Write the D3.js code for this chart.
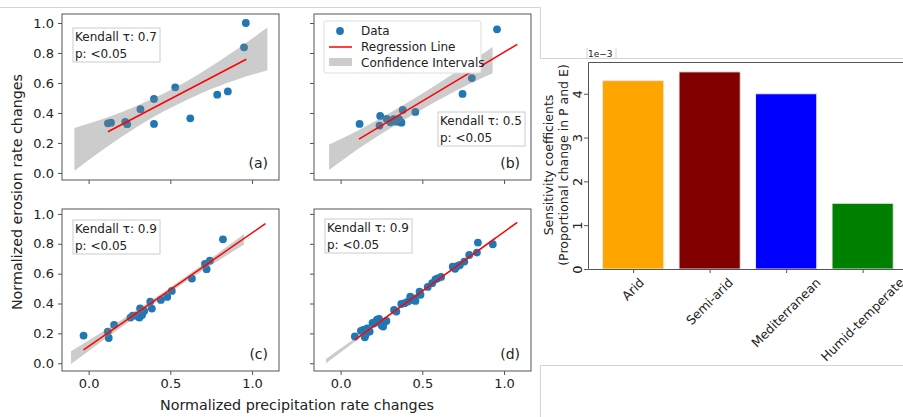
<!DOCTYPE html>
<html>
<head>
<meta charset="utf-8">
<script src="https://cdn.jsdelivr.net/npm/d3@7/dist/d3.min.js"></script>
<style>
body { margin: 0; background: #fff; }
text { font-family: "DejaVu Sans", sans-serif; fill: #222; }
</style>
</head>
<body>
<svg id="fig" width="903" height="417"></svg>
<script>
// ---- scatter data (normalized precipitation vs erosion changes) ----
var aX = [0.118, 0.137, 0.224, 0.236, 0.317, 0.40, 0.40, 0.53, 0.622, 0.787, 0.852, 0.951, 0.962];
var aY = [0.331, 0.335, 0.340, 0.325, 0.425, 0.327, 0.493, 0.571, 0.364, 0.522, 0.544, 0.838, 1.0];

var bX = [0.116, 0.238, 0.242, 0.282, 0.305, 0.325, 0.341, 0.356, 0.366, 0.372, 0.38, 0.457, 0.746, 0.803, 0.957];
var bY = [0.327, 0.316, 0.38, 0.36, 0.338, 0.358, 0.342, 0.36, 0.342, 0.335, 0.42, 0.407, 0.527, 0.633, 0.958];

var cX = [-0.031, 0.117, 0.123, 0.156, 0.256, 0.27, 0.29, 0.307, 0.311, 0.315, 0.327, 0.34, 0.377, 0.387, 0.442, 0.481, 0.509, 0.632, 0.712, 0.722, 0.742, 0.822];
var cY = [0.185, 0.212, 0.169, 0.257, 0.306, 0.319, 0.319, 0.31, 0.306, 0.368, 0.323, 0.35, 0.413, 0.366, 0.424, 0.444, 0.484, 0.567, 0.665, 0.63, 0.687, 0.83];

var dX = [0.087, 0.124, 0.138, 0.148, 0.154, 0.162, 0.178, 0.195, 0.203, 0.215, 0.223, 0.235, 0.243, 0.252, 0.26, 0.27, 0.28,
          0.327, 0.341, 0.371, 0.391, 0.412, 0.426, 0.438, 0.452, 0.458, 0.483, 0.489, 0.533, 0.56, 0.58, 0.594, 0.615,
          0.686, 0.70, 0.716, 0.73, 0.757, 0.787, 0.834, 0.84, 0.931];
var dY = [0.179, 0.217, 0.223, 0.174, 0.194, 0.234, 0.212, 0.27, 0.266, 0.279, 0.292, 0.297, 0.27, 0.252, 0.246, 0.279, 0.283,
          0.357, 0.346, 0.397, 0.402, 0.413, 0.446, 0.424, 0.435, 0.417, 0.48, 0.458, 0.511, 0.536, 0.562, 0.569, 0.578,
          0.647, 0.632, 0.652, 0.658, 0.681, 0.725, 0.741, 0.808, 0.797];

// regression line end points [x0, y0, x1, y1]
var aFit = [0.118, 0.275, 0.965, 0.758];
var bFit = [0.112, 0.225, 1.081, 0.858];
var cFit = [-0.031, 0.089, 1.082, 0.935];
var dFit = [0.087, 0.156, 1.081, 0.944];

// confidence band
var aCiX  = [-0.087, 0.10, 0.30, 0.50, 0.70, 0.90, 1.094];
var aCiHi = [0.30, 0.365, 0.45, 0.553, 0.677, 0.82, 0.97];
var aCiLo = [0.015, 0.165, 0.31, 0.433, 0.537, 0.62, 0.685];
var bCiX  = [-0.071, 0.10, 0.30, 0.50, 0.70, 0.93];
var bCiHi = [0.19, 0.28, 0.40, 0.53, 0.67, 0.84];
var bCiLo = [0.02, 0.155, 0.295, 0.425, 0.545, 0.665];
var cCiX  = [-0.108, 0.30, 0.60, 0.951];
var cCiHi = [0.08, 0.36, 0.585, 0.865];
var cCiLo = [-0.005, 0.32, 0.55, 0.795];
var dCiX  = [-0.089, 0.40, 0.95];
var dCiHi = [0.03, 0.41, 0.85];
var dCiLo = [0.0, 0.398, 0.83];

var kendallTau = [0.7, 0.5, 0.9, 0.9];
var panelTags = ["(a)", "(b)", "(c)", "(d)"];
var xTicks = [0.0, 0.5, 1.0];
var yTicks = [0.0, 0.2, 0.4, 0.6, 0.8, 1.0];

// ---- bar chart data ----
var climates = ["Arid", "Semi-arid", "Mediterranean", "Humid-temperate"];
var sensitivity = [0.0043, 0.0045, 0.0040, 0.0015];
var barColors = ["orange", "maroon", "blue", "green"];
var barTicks = [0, 0.001, 0.002, 0.003, 0.004];

var svg = d3.select("#fig");

// screenshot frame lines
var frame = svg.append("g").attr("stroke", "#d4d4d4").attr("fill", "none");
frame.append("path").attr("d", "M0,7.5H540.5V58.5H903");
frame.append("path").attr("d", "M540.5,417V365.5H903");
frame.append("path").attr("d", "M587,48V58 M616,48V58");

var panels = [
  {x: aX, y: aY, fit: aFit, ciX: aCiX, ciHi: aCiHi, ciLo: aCiLo, left: 62,  top: 14,  h: 166, row: 0, box: [11, 14]},
  {x: bX, y: bY, fit: bFit, ciX: bCiX, ciHi: bCiHi, ciLo: bCiLo, left: 314, top: 14,  h: 166, row: 0, box: [124, 98]},
  {x: cX, y: cY, fit: cFit, ciX: cCiX, ciHi: cCiHi, ciLo: cCiLo, left: 62,  top: 209, h: 162, row: 1, box: [11, 11]},
  {x: dX, y: dY, fit: dFit, ciX: dCiX, ciHi: dCiHi, ciLo: dCiLo, left: 314, top: 209, h: 162, row: 1, box: [11, 10]}
];
var yDomains = [[-0.047, 1.06], [-0.052, 1.033]];
var pw = 217;

panels.forEach(function(p, i) {
  var g = svg.append("g").attr("transform", "translate(" + p.left + "," + p.top + ")");
  var x = d3.scaleLinear().domain([-0.163, 1.165]).range([0, pw]);
  var y = d3.scaleLinear().domain(yDomains[p.row]).range([p.h, 0]);

  var clip = "clip" + i;
  g.append("clipPath").attr("id", clip).append("rect").attr("width", pw).attr("height", p.h);
  var plot = g.append("g").attr("clip-path", "url(#" + clip + ")");

  plot.selectAll("circle").data(p.x).enter().append("circle")
    .attr("cx", function(d) { return x(d); })
    .attr("cy", function(d, k) { return y(p.y[k]); })
    .attr("r", 3.9)
    .attr("fill", "#1f77b4");

  var band = d3.area()
    .x(function(d, k) { return x(p.ciX[k]); })
    .y0(function(d, k) { return y(p.ciLo[k]); })
    .y1(function(d, k) { return y(p.ciHi[k]); })
    .curve(d3.curveMonotoneX);
  plot.append("path").datum(p.ciX).attr("d", band)
    .attr("fill", "gray").attr("fill-opacity", 0.4);

  plot.append("line")
    .attr("x1", x(p.fit[0])).attr("y1", y(p.fit[1]))
    .attr("x2", x(p.fit[2])).attr("y2", y(p.fit[3]))
    .attr("stroke", "red").attr("stroke-width", 1.5);

  // axes
  var ax = g.append("g").attr("transform", "translate(0," + p.h + ")")
    .call(d3.axisBottom(x).tickValues(xTicks).tickSize(4).tickPadding(4)
      .tickFormat(p.row == 1 ? d3.format(".1f") : ""));
  var ay = g.append("g")
    .call(d3.axisLeft(y).tickValues(yTicks).tickSize(4).tickPadding(4)
      .tickFormat(i % 2 == 0 ? d3.format(".1f") : ""));
  [ax, ay].forEach(function(a) {
    a.select(".domain").remove();
    a.selectAll("line").attr("stroke", "#555");
    a.selectAll("text").attr("font-size", 13).attr("fill", "#222")
      .attr("font-family", "DejaVu Sans");
  });
  g.append("rect").attr("width", pw).attr("height", p.h)
    .attr("fill", "none").attr("stroke", "#555").attr("stroke-width", 1);

  // Kendall box
  var bx = g.append("g").attr("transform", "translate(" + p.box[0] + "," + p.box[1] + ")");
  bx.append("rect").attr("width", 87).attr("height", 34)
    .attr("fill", "#fff").attr("stroke", "#ccc");
  bx.append("text").attr("x", 2).attr("y", 13).attr("font-size", 12).text("Kendall τ: " + kendallTau[i]);
  bx.append("text").attr("x", 2).attr("y", 30).attr("font-size", 12).text("p: <0.05");

  g.append("text").attr("x", pw - 11).attr("y", p.h - 12)
    .attr("text-anchor", "end").attr("font-size", 14).text(panelTags[i]);

  if (i == 1) {
    var lg = g.append("g").attr("transform", "translate(10,7)");
    lg.append("rect").attr("width", 157).attr("height", 52)
      .attr("fill", "#fff").attr("stroke", "#ddd").attr("rx", 2);
    lg.append("circle").attr("cx", 16).attr("cy", 10).attr("r", 3.9).attr("fill", "#1f77b4");
    lg.append("line").attr("x1", 5).attr("x2", 28).attr("y1", 26).attr("y2", 26)
      .attr("stroke", "red").attr("stroke-width", 1.5);
    lg.append("rect").attr("x", 5).attr("y", 37).attr("width", 23).attr("height", 8)
      .attr("fill", "gray").attr("fill-opacity", 0.4);
    var labels = ["Data", "Regression Line", "Confidence Intervals"];
    labels.forEach(function(t, k) {
      lg.append("text").attr("x", 37).attr("y", 14 + k * 16).attr("font-size", 12).text(t);
    });
  }
});

svg.append("text").attr("x", 297).attr("y", 410).attr("text-anchor", "middle")
  .attr("font-size", 14.3).text("Normalized precipitation rate changes");
svg.append("text").attr("transform", "translate(22,192) rotate(-90)")
  .attr("text-anchor", "middle").attr("font-size", 14.3).text("Normalized erosion rate changes");

// ---- bar chart ----
var bl = 588, bt = 62, bb = 269;
var bxs = d3.scaleLinear().domain([-0.59, 3.59]).range([bl, bl + 4.18 * 76.5]);
var bys = d3.scaleLinear().domain([0, 0.004725]).range([bb, bt]);
var bg = svg.append("g");

bg.selectAll("rect.bar").data(sensitivity).enter().append("rect").attr("class", "bar")
  .attr("x", function(d, k) { return bxs(k - 0.4); })
  .attr("width", function() { return bxs(0.8) - bxs(0); })
  .attr("y", function(d) { return bys(d); })
  .attr("height", function(d) { return bb - bys(d); })
  .attr("fill", function(d, k) { return barColors[k]; })
  .attr("stroke", "#e8e8e8").attr("stroke-width", 1);

var byAxis = bg.append("g").attr("transform", "translate(" + bl + ",0)")
  .call(d3.axisLeft(bys).tickValues(barTicks).tickSize(4).tickFormat(function(d) { return Math.round(d * 1000); }));
byAxis.select(".domain").remove();
byAxis.selectAll("line").attr("stroke", "#555");
byAxis.selectAll("text").attr("font-size", 13).attr("fill", "#222")
  .attr("x", null).attr("dy", null)
  .attr("text-anchor", "middle")
  .attr("transform", "translate(-10,0) rotate(-90)")
  .attr("dominant-baseline", "middle");

// x labels: rotated 45 degrees, bounding box centred on the tick
var bxAxis = bg.append("g").attr("transform", "translate(0," + bb + ")")
  .call(d3.axisBottom(bxs).tickValues([0, 1, 2, 3]).tickSize(4).tickFormat(function(d) { return climates[d]; }));
bxAxis.select(".domain").remove();
bxAxis.selectAll("line").attr("stroke", "#555");
bxAxis.selectAll("text").attr("font-size", 12.5).attr("fill", "#222")
  .attr("y", null).attr("dy", null)
  .attr("text-anchor", "middle")
  .attr("dominant-baseline", "middle")
  .attr("transform", function() {
    var w = this.getComputedTextLength();
    var half = (w + 14) * Math.SQRT1_2 / 2;
    return "translate(0," + (7 + half) + ") rotate(-45)";
  });

bg.append("path").attr("d", "M903," + (bt + 0.5) + "H" + (bl + 0.5) + "V" + (bb + 0.5) + "H903")
  .attr("fill", "none").attr("stroke", "#555");

bg.append("text").attr("x", 588).attr("y", 57).attr("font-size", 9).text("1e−3");
bg.append("text").attr("transform", "translate(553,165) rotate(-90)")
  .attr("text-anchor", "middle").attr("font-size", 12.5).text("Sensitivity coefficients");
bg.append("text").attr("transform", "translate(568,165) rotate(-90)")
  .attr("text-anchor", "middle").attr("font-size", 12.5).text("(Proportional change in P and E)");
</script>
</body>
</html>
